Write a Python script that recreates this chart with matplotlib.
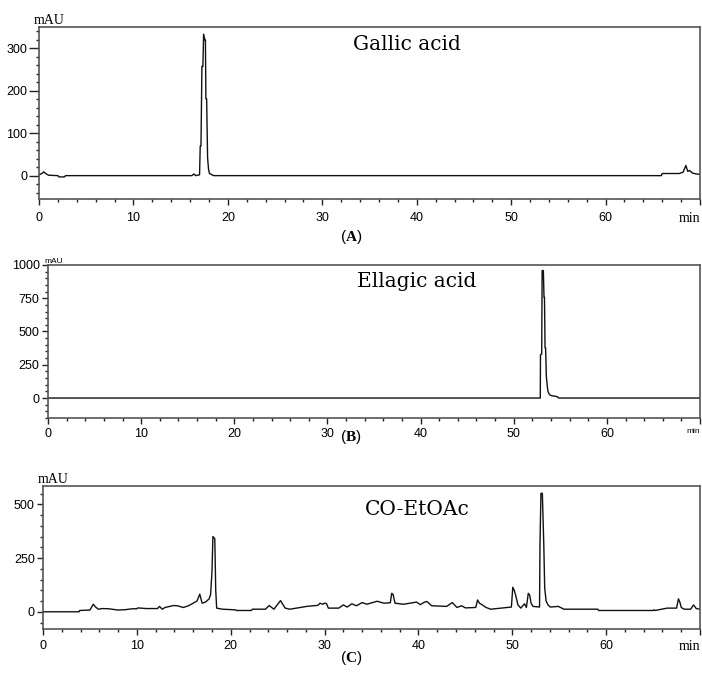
import matplotlib
matplotlib.use("Agg")
import matplotlib.pyplot as plt
from matplotlib.ticker import MultipleLocator

plt.rcParams['font.family'] = ['Liberation Sans', 'DejaVu Sans']
plt.rcParams['mathtext.fontset'] = 'custom'
plt.rcParams['mathtext.rm'] = 'Liberation Serif'
plt.rcParams['mathtext.bf'] = 'Liberation Serif:bold'

# (A) Gallic acid standard
time_a = [0, 0.3, 0.5, 0.7, 1.0, 2.0, 2.1, 2.7, 2.8, 16.2, 16.4, 16.6, 17.0, 17.07,
          17.15, 17.25, 17.35, 17.43, 17.57, 17.62, 17.67, 17.75, 17.85, 17.95, 18.05,
          18.5, 65.9, 66.0, 67.8, 68.2, 68.5, 68.7, 68.9, 69.2, 69.6, 70]
mau_a = [2, 5, 9, 5, 1, 0, -3, -3, 0, 0, 4, 0, 2, 70,
         70, 257, 257, 333, 319, 319, 181, 181, 42, 15, 5,
         0, 0, 5, 5, 8, 24, 10, 12, 6, 4, 3]

# (B) Ellagic acid standard
time_b = [0, 52.85, 52.87, 53.0, 53.05, 53.18, 53.25, 53.3, 53.36, 53.42, 53.5, 53.6,
          53.68, 53.85, 54.04, 54.7, 54.8, 70]
mau_b = [0, 0, 326, 330, 958, 958, 756, 756, 377, 377, 162, 90,
         48, 25, 18, 10, 0, 0]

# (C) CO-EtOAc extract
time_c = [0, 3.85, 3.9, 5.0, 5.35, 5.6, 5.9, 6.3, 7.0, 8.0, 8.8, 9.5, 10.0, 10.1, 11.0,
          12.2, 12.4, 12.7, 13.0, 13.9, 14.3, 14.95, 15.5, 16.0, 16.4, 16.7, 16.95, 17.3,
          17.7, 17.85, 18.0, 18.1, 18.3, 18.4, 18.5, 19.1, 20.5, 20.6, 22.2, 22.3, 23.7,
          24.1, 24.6, 25.3, 25.8, 26.3, 28.1, 29.3, 29.5, 29.8, 30.0, 30.2, 30.4, 31.5,
          32.0, 32.4, 32.9, 33.4, 34.0, 34.5, 35.6, 36.3, 37.0, 37.15, 37.3, 37.5, 38.4,
          39.8, 40.2, 40.6, 40.9, 41.4, 43.0, 43.6, 44.1, 44.6, 45.0, 46.1, 46.3, 46.5,
          46.8, 47.2, 47.7, 49.9, 50.05, 50.2, 50.35, 50.6, 50.9, 51.3, 51.5, 51.7, 51.85,
          52.0, 52.2, 52.9, 52.95, 53.05, 53.2, 53.35, 53.45, 53.6, 53.8, 54.05, 54.9,
          55.5, 59.1, 59.2, 65.0, 65.1, 65.2, 66.5, 67.5, 67.7, 67.85, 68.0, 68.3, 69.0,
          69.3, 69.6, 70.0]
mau_c = [0, 0, 6, 8, 35, 22, 12, 15, 14, 8, 10, 14, 14, 18, 15,
         15, 25, 12, 20, 29, 28, 20, 28, 40, 50, 82, 40, 45,
         60, 80, 186, 350, 340, 100, 17, 12, 9, 6, 6, 12, 12,
         29, 12, 52, 17, 12, 25, 30, 40, 35, 40, 38, 17, 17,
         32, 22, 37, 28, 43, 35, 49, 40, 42, 86, 80, 40, 35,
         45, 33, 44, 48, 28, 25, 43, 20, 28, 18, 20, 55, 40,
         32, 20, 12, 22, 114, 100, 78, 32, 17, 37, 20, 86, 78,
         40, 25, 22, 318, 551, 551, 318, 110, 50, 32, 22, 25,
         12, 12, 6, 6, 9, 6, 17, 17, 60, 45, 20, 12, 12,
         32, 15, 12]

titles = ["Gallic acid", "Ellagic acid", "CO-EtOAc"]
letters = ["A", "B", "C"]


def style_axis(ax, ylim, ymajor, yminor, xpad, ylen, small_units=False):
    ax.set_xlim(0, 70)
    ax.set_ylim(*ylim)
    ax.xaxis.set_minor_locator(MultipleLocator(2))
    ax.yaxis.set_major_locator(MultipleLocator(ymajor))
    ax.yaxis.set_minor_locator(MultipleLocator(yminor))
    ax.set_xticks(range(0, 71, 10))
    ax.set_xticklabels(["0", "10", "20", "30", "40", "50", "60", ""])
    ax.tick_params(which='major', direction='out', width=1, labelsize=9, color='#222222')
    ax.tick_params(axis='x', which='major', length=4.5, pad=xpad)
    ax.tick_params(axis='y', which='major', length=ylen, pad=1.5)
    ax.tick_params(which='minor', direction='out', length=2.5, width=1, color='#222222')
    for s in ax.spines.values():
        s.set_color('#555555')
        s.set_linewidth(1.2)
    # "min" sits on the same line as the x tick labels
    if small_units:
        ax.text(0.008, 1.0, "mAU", transform=ax.transAxes, ha='center', va='bottom',
                fontsize=6)
        ax.annotate("min", xy=(1.0, 0), xycoords='axes fraction', xytext=(0, -4.5 - xpad),
                    textcoords='offset points', ha='right', va='top', fontsize=6)
    else:
        ax.text(0.015, 1.0, "mAU", transform=ax.transAxes, ha='center', va='bottom',
                fontsize=10, family='Liberation Serif')
        ax.annotate("min", xy=(1.0, 0), xycoords='axes fraction', xytext=(0, -4.5 - xpad),
                    textcoords='offset points', ha='right', va='top', fontsize=10,
                    family='Liberation Serif')


fig = plt.figure(figsize=(7.02, 6.78), dpi=100)

ax_a = fig.add_axes([0.0556, 0.7065, 0.9416, 0.2537])
ax_a.plot(time_a, mau_a, color='#111111', lw=1.0)
style_axis(ax_a, (-55, 350), 100, 20, xpad=5, ylen=7)
ax_a.text(33.3, 0.955, titles[0], transform=ax_a.get_xaxis_transform(), ha='left', va='top',
          fontsize=14.5, family='DejaVu Serif')

ax_b = fig.add_axes([0.0684, 0.3835, 0.9288, 0.2257])
ax_b.plot(time_b, mau_b, color='#111111', lw=1.0)
style_axis(ax_b, (-150, 1000), 250, 50, xpad=3, ylen=4.5, small_units=True)
ax_b.text(33.2, 0.955, titles[1], transform=ax_b.get_xaxis_transform(), ha='left', va='top',
          fontsize=14.5, family='DejaVu Serif')

ax_c = fig.add_axes([0.0613, 0.0723, 0.9359, 0.2109])
ax_c.plot(time_c, mau_c, color='#111111', lw=1.0)
style_axis(ax_c, (-80, 585), 250, 50, xpad=3.5, ylen=4.5)
ax_c.text(34.3, 0.90, titles[2], transform=ax_c.get_xaxis_transform(), ha='left', va='top',
          fontsize=14.5, family='DejaVu Serif')

for letter, yc in zip(letters, [237, 437, 658]):
    fig.text(351 / 702, 1 - yc / 678, r"($\mathbf{" + letter + "}$)", ha='center', va='center',
             fontsize=11)

fig.savefig("out.png", dpi=100)
